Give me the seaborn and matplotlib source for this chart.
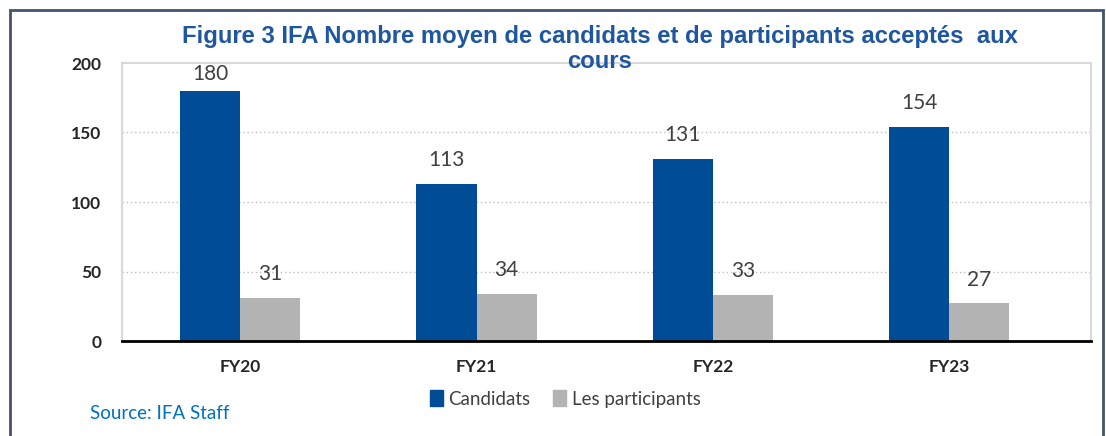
import pandas as pd
import seaborn as sns
import matplotlib.pyplot as plt
from matplotlib.patches import Rectangle

years = ['FY20', 'FY21', 'FY22', 'FY23']
candidats = [180, 113, 131, 154]
participants = [31, 34, 33, 27]
series_names = ['Candidats', 'Les participants']
colors = ['#004C97', '#B3B3B3']

df = pd.DataFrame({
    'year': years * 2,
    'value': candidats + participants,
    'series': [series_names[0]] * len(years) + [series_names[1]] * len(years),
})

sns.set_style('white')
plt.rcParams['font.family'] = ['Lato', 'DejaVu Sans']

fig = plt.figure(figsize=(11.06, 4.36), dpi=100)
ax = fig.add_axes([122 / 1106, 1 - 341 / 436, (1091 - 122) / 1106, (341 - 63) / 436])

sns.barplot(data=df, x='year', y='value', hue='series', palette=colors,
            width=0.51, saturation=1, linewidth=0, ax=ax, legend=False)

ax.set_ylim(0, 200)
ax.set_xlim(-0.5, 3.6)
ax.set_yticks([0, 50, 100, 150, 200])
for y in [50, 100, 150]:
    ax.axhline(y, color='#BFBFBF', lw=1, ls=(0, (1, 2)), zorder=0)

# value labels; the tallest one sits closer to its bar so it stays in the plot area
for c in ax.containers:
    labels = ax.bar_label(c, padding=10, fontsize=15, color='#404040')
    for bar, lbl in zip(c, labels):
        if bar.get_height() > 170:
            lbl.xyann = (0, 5)

for s in ['left', 'right', 'top']:
    ax.spines[s].set_color('#D9D9D9')
    ax.spines[s].set_linewidth(1.5)
ax.spines['bottom'].set_color('black')
ax.spines['bottom'].set_linewidth(2)

ax.tick_params(axis='both', length=0)
ax.tick_params(axis='x', pad=13)
ax.tick_params(axis='y', pad=15)
for lbl in ax.get_xticklabels() + ax.get_yticklabels():
    lbl.set_fontweight('bold')
    lbl.set_fontsize(12.5)
ax.set_xlabel('')
ax.set_ylabel('')

title_kw = dict(ha='center', va='center', fontsize=17.2, fontweight='bold',
                color='#1F56A0', family=['Liberation Sans', 'DejaVu Sans'])
fig.text(600 / 1106, 1 - 37 / 436,
         'Figure 3 IFA Nombre moyen de candidats et de participants acceptés  aux', **title_kw)
fig.text(600 / 1106, 1 - 62 / 436, 'cours', **title_kw)

handles = [Rectangle((0, 0), 1, 1, color=c) for c in colors]
fig.legend(handles, series_names, loc='center', bbox_to_anchor=(565 / 1106, 1 - 399 / 436),
           ncol=2, frameon=False, handlelength=0.7, handleheight=0.9,
           handletextpad=0.3, columnspacing=1.2, prop={'size': 13.5},
           labelcolor='#404040')

fig.text(90 / 1106, 1 - 413 / 436, 'Source: IFA Staff', ha='left', va='center',
         fontsize=13.5, color='#0070C0')

fig.patches.append(Rectangle((10 / 1106, -0.1), (1103 - 10) / 1106, 1.1 - 10 / 436,
                             transform=fig.transFigure, fill=False,
                             edgecolor='#44546A', lw=2))

fig.savefig('out.png', dpi=100)
